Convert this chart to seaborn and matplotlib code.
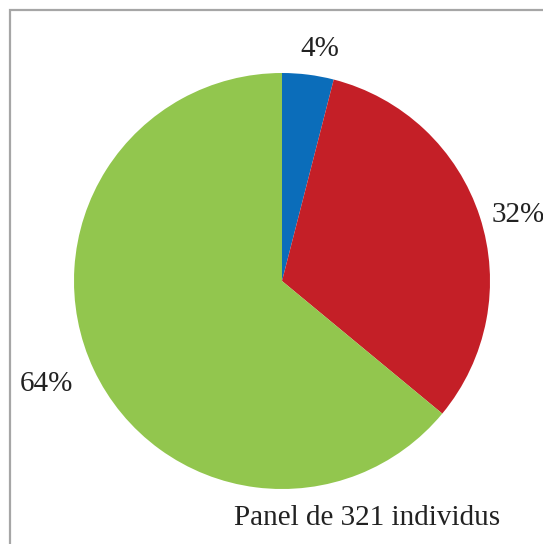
import matplotlib
matplotlib.use("Agg")
import matplotlib.pyplot as plt
import seaborn as sns
import numpy as np
from matplotlib.patches import Rectangle

sns.set_theme(style="white")
plt.rcParams['font.family'] = ['Liberation Serif', 'DejaVu Serif']

categories = ["A", "B", "C"]
values = [4, 32, 64]
pct_labels = ["4%", "32%", "64%"]
colors = ["#0B6DBA", "#C41F27", "#92C64E"]
caption = "Panel de 321 individus"

# label placement (style): radial distance and angle shift
label_dist = [1.14, 1.18, 1.23]
angle_shift = -2.0

W, H = 543, 544
fig = plt.figure(figsize=(W / 100, H / 100), dpi=100)
fig.patch.set_facecolor("white")

# border (top & left visible; right & bottom run off the image)
fig.patches.append(Rectangle((10 / W, -0.1), 1.2, (H - 10) / H + 0.1, transform=fig.transFigure,
                             fill=False, edgecolor="#A6A6A6", linewidth=1.6, zorder=0))

cx, cy, r = 282, H - 281, 208
ax = fig.add_axes([(cx - r) / W, (cy - r) / H, 2 * r / W, 2 * r / H])
wedges, _ = ax.pie(values, colors=colors, startangle=90, counterclock=False,
                   radius=1, wedgeprops=dict(linewidth=0))
ax.set_xlim(-1, 1)
ax.set_ylim(-1, 1)
ax.set_aspect("equal")
ax.axis("off")

for w, lab, d in zip(wedges, pct_labels, label_dist):
    ang = np.deg2rad((w.theta1 + w.theta2) / 2 + angle_shift)
    ax.text(d * np.cos(ang), d * np.sin(ang) - 0.01, lab, ha="center", va="center",
            fontsize=21, color="#222222", clip_on=False)

fig.text(367 / W, 1 - 518 / H, caption, ha="center", va="center", fontsize=21, color="#222222")

fig.savefig("out.png", dpi=100)
